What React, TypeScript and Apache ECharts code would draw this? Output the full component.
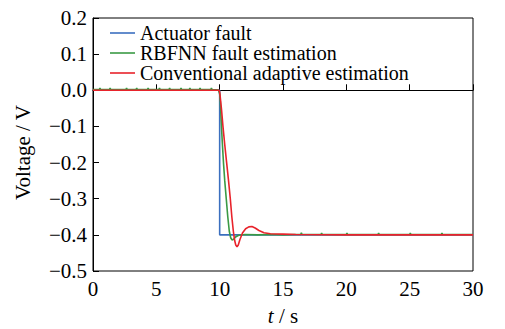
import React, { useEffect, useRef } from "react";
import * as echarts from "echarts";

const xTicks = [0, 5, 10, 15, 20, 25, 30];
const yTicks = [-0.5, -0.4, -0.3, -0.2, -0.1, 0.0, 0.1, 0.2];

const seriesNames = ["Actuator fault", "RBFNN fault estimation", "Conventional adaptive estimation"];

const actuatorT = [0, 10, 10, 30];
const actuatorV = [0, 0, -0.4, -0.4];

const rbfnnT = [0, 0.5, 0.55, 0.6, 1.3, 1.35, 1.4, 2.6, 2.65, 2.7, 3.4, 3.45, 3.5, 4.3, 4.35, 4.4, 5.2, 5.25, 5.3, 6.0, 6.05, 6.1, 6.9, 6.95, 7.0, 7.6, 7.65, 7.7, 8.4, 8.45, 8.5, 9.3, 9.35, 9.4, 9.9, 10.0, 10.05, 10.1, 10.2, 10.3, 10.4, 10.52, 10.64, 10.76, 10.87, 10.97, 11.1, 11.25, 11.5, 12.0, 13.0, 14.0, 15.0, 16.0, 16.4, 16.45, 16.5, 18.0, 18.05, 18.1, 20.0, 20.05, 20.1, 22.5, 22.55, 22.6, 25.0, 25.05, 25.1, 27.5, 27.55, 27.6, 30];
const rbfnnV = [0.002, 0.002, 0.006, 0.002, 0.002, 0.006, 0.002, 0.002, 0.006, 0.002, 0.002, 0.006, 0.002, 0.002, 0.006, 0.002, 0.002, 0.006, 0.002, 0.002, 0.006, 0.002, 0.002, 0.006, 0.002, 0.002, 0.006, 0.002, 0.002, 0.006, 0.002, 0.002, 0.006, 0.002, 0.001, -0.01, -0.03, -0.07, -0.14, -0.2, -0.25, -0.3, -0.35, -0.39, -0.408, -0.414, -0.412, -0.406, -0.401, -0.399, -0.4, -0.399, -0.4, -0.399, -0.399, -0.394, -0.399, -0.399, -0.395, -0.399, -0.399, -0.395, -0.399, -0.399, -0.395, -0.399, -0.399, -0.395, -0.399, -0.399, -0.395, -0.399, -0.399];

const convT = [0, 9.95, 10.0, 10.05, 10.15, 10.26, 10.4, 10.55, 10.7, 10.84, 10.96, 11.08, 11.18, 11.27, 11.37, 11.47, 11.6, 11.8, 12.05, 12.3, 12.55, 12.8, 13.1, 13.5, 14.0, 15.0, 16.0, 20.0, 30];
const convV = [0, 0, -0.005, -0.02, -0.055, -0.1, -0.15, -0.2, -0.25, -0.3, -0.35, -0.39, -0.415, -0.428, -0.433, -0.428, -0.413, -0.395, -0.383, -0.378, -0.377, -0.381, -0.388, -0.394, -0.397, -0.398, -0.399, -0.4, -0.4];

const colors = ["#3b6fbf", "#3a9a44", "#e8232b"];

const pairs = (t: number[], v: number[]) => t.map((x, i) => [x, v[i]]);

const FONT = "'Liberation Serif', 'Times New Roman', serif";

export default function App() {
  const ref = useRef<HTMLDivElement>(null);
  useEffect(() => {
    if (!ref.current) return;
    const chart = echarts.init(ref.current, undefined, { renderer: "svg" });
    const fmtY = (v: number) => {
      const s = Math.abs(v).toFixed(1);
      return v < -1e-9 ? "\u2212" + s : s;
    };
    chart.setOption({
      animation: false,
      backgroundColor: "#ffffff",
      textStyle: { fontFamily: FONT },
      grid: {
        left: 93,
        right: 32,
        top: 18,
        bottom: 58,
        show: true,
        borderColor: "#000",
        borderWidth: 1,
        containLabel: false,
        outerBoundsMode: "none",
      },
      legend: {
        orient: "vertical",
        left: 110,
        top: 23,
        padding: 0,
        itemGap: 0,
        itemWidth: 25,
        itemHeight: 1.6,
        icon: "rect",
        textStyle: { fontFamily: FONT, fontSize: 20, color: "#000", lineHeight: 20 },
        data: seriesNames,
      },
      xAxis: {
        type: "value",
        min: xTicks[0],
        max: xTicks[xTicks.length - 1],
        interval: 5,
        name: "{i|t} / s",
        nameLocation: "middle",
        nameGap: 34,
        nameTextStyle: {
          fontFamily: FONT,
          fontSize: 21,
          color: "#000",
          rich: { i: { fontFamily: FONT, fontStyle: "italic", fontSize: 21, color: "#000" } },
        },
        axisLine: { lineStyle: { color: "#000", width: 1 } },
        axisTick: { inside: true, length: 6, lineStyle: { color: "#000" } },
        axisLabel: { fontFamily: FONT, fontSize: 21, color: "#000", margin: 7 },
        splitLine: { show: false },
      },
      yAxis: {
        type: "value",
        min: yTicks[0],
        max: yTicks[yTicks.length - 1],
        interval: 0.1,
        name: "Voltage / V",
        nameLocation: "middle",
        nameGap: 60,
        nameTextStyle: { fontFamily: FONT, fontSize: 21, color: "#000", padding: [0, 16, 0, 0] },
        axisLine: { lineStyle: { color: "#000", width: 1 } },
        axisTick: { inside: true, length: 6, lineStyle: { color: "#000" } },
        axisLabel: { fontFamily: FONT, fontSize: 21, color: "#000", margin: 6, formatter: fmtY },
        splitLine: { show: false },
      },
      series: [
        {
          name: seriesNames[0],
          type: "line",
          symbol: "none",
          data: pairs(actuatorT, actuatorV),
          lineStyle: { color: colors[0], width: 1.6 },
          itemStyle: { color: colors[0] },
          z: 2,
        },
        {
          name: seriesNames[1],
          type: "line",
          symbol: "none",
          data: pairs(rbfnnT, rbfnnV),
          lineStyle: { color: colors[1], width: 1.6 },
          itemStyle: { color: colors[1] },
          z: 3,
        },
        {
          name: seriesNames[2],
          type: "line",
          symbol: "none",
          data: pairs(convT, convV),
          lineStyle: { color: colors[2], width: 1.6 },
          itemStyle: { color: colors[2] },
          z: 4,
        },
      ],
    });
    return () => chart.dispose();
  }, []);
  return <div ref={ref} style={{ width: 505, height: 329, position: "absolute", left: 0, top: 0 }} />;
}
